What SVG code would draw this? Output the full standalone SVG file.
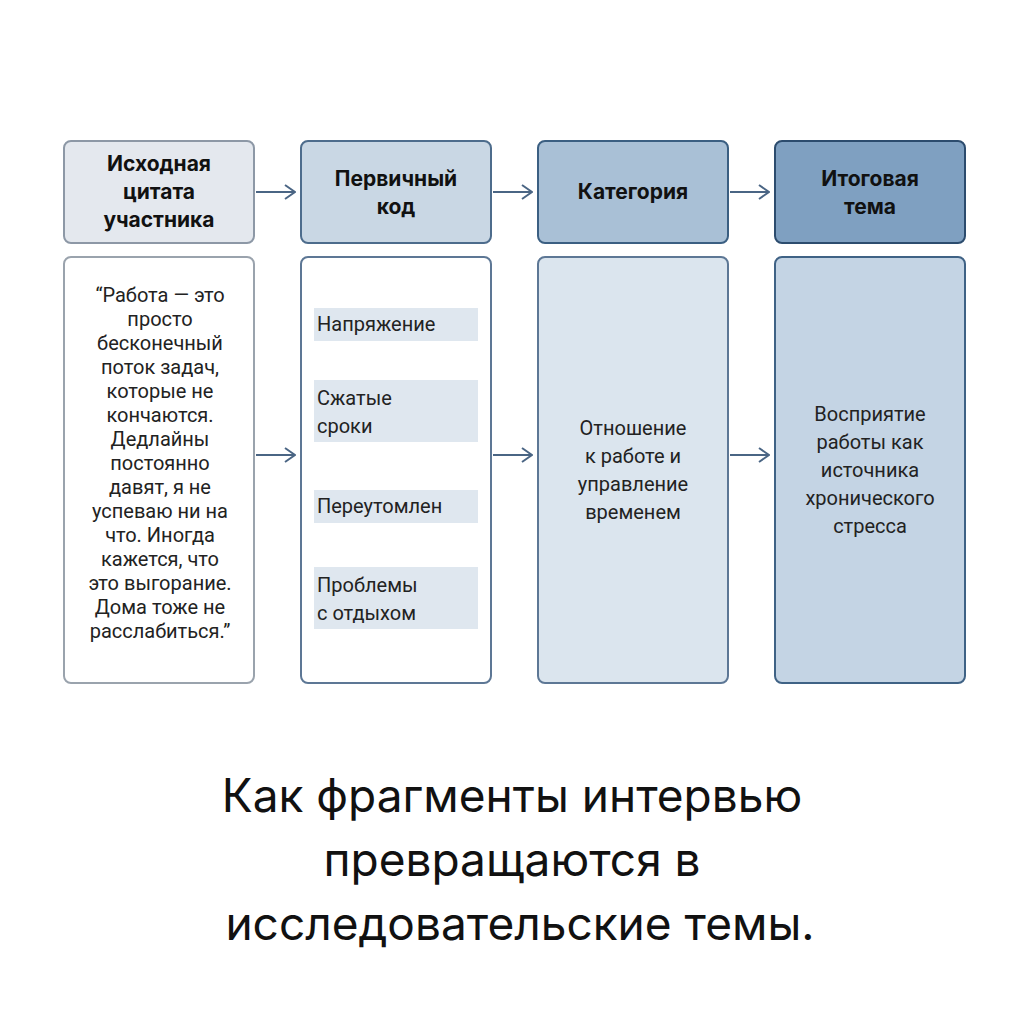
<svg xmlns="http://www.w3.org/2000/svg" width="1024" height="1024" viewBox="0 0 1024 1024">
<style>
.h{font-family:"Inter","Liberation Sans",sans-serif;font-weight:700;font-size:21px;fill:#111;text-anchor:middle}
.b{font-family:"Roboto","Liberation Sans",sans-serif;font-size:20px;fill:#222;text-anchor:middle}
.c{font-family:"Roboto","Liberation Sans",sans-serif;font-size:20px;fill:#222}
.t{font-family:"Inter","Liberation Sans",sans-serif;font-size:46px;fill:#111;text-anchor:middle}
.a{stroke:#4a6584;stroke-width:2;fill:none}
.band{fill:#dfe7ef}
</style>
<defs><marker id="m" viewBox="0 0 12 16" refX="11" refY="8" markerWidth="12" markerHeight="16" markerUnits="userSpaceOnUse" orient="auto"><path d="M1,1 L11,8 L1,15" fill="none" stroke="#4a6584" stroke-width="2"/></marker></defs>
<rect width="1024" height="1024" fill="#fff"/>
<g id="h1"><rect x="64" y="141" width="190" height="102" rx="7" fill="#e4e8ee" stroke="#8d98a6" stroke-width="2"/><text class="h"><tspan x="159" y="171">Исходная</tspan><tspan x="159" y="199">цитата</tspan><tspan x="159" y="227">участника</tspan></text></g>
<g id="h2"><rect x="301" y="141" width="190" height="102" rx="7" fill="#c9d7e4" stroke="#4d6c8c" stroke-width="2"/><text class="h"><tspan x="396" y="186">Первичный</tspan><tspan x="396" y="214">код</tspan></text></g>
<g id="h3"><rect x="538" y="141" width="190" height="102" rx="7" fill="#a9c0d6" stroke="#3b5f82" stroke-width="2"/><text class="h" x="633" y="199">Категория</text></g>
<g id="h4"><rect x="775" y="141" width="190" height="102" rx="7" fill="#7fa0c1" stroke="#2c4c6e" stroke-width="2"/><text class="h"><tspan x="870" y="186">Итоговая</tspan><tspan x="870" y="214">тема</tspan></text></g>
<g id="b1"><rect x="64" y="257" width="190" height="426" rx="7" fill="#fff" stroke="#9aa3ad" stroke-width="2"/><text class="b"><tspan x="160" y="302">“Работа — это</tspan><tspan x="160" y="326">просто</tspan><tspan x="160" y="350">бесконечный</tspan><tspan x="160" y="374">поток задач,</tspan><tspan x="160" y="398">которые не</tspan><tspan x="160" y="422">кончаются.</tspan><tspan x="160" y="446">Дедлайны</tspan><tspan x="160" y="470">постоянно</tspan><tspan x="160" y="494">давят, я не</tspan><tspan x="160" y="518">успеваю ни на</tspan><tspan x="160" y="542">что. Иногда</tspan><tspan x="160" y="566">кажется, что</tspan><tspan x="160" y="590">это выгорание.</tspan><tspan x="160" y="614">Дома тоже не</tspan><tspan x="160" y="638">расслабиться.”</tspan></text></g>
<g id="b2"><rect x="301" y="257" width="190" height="426" rx="7" fill="#fff" stroke="#5d7795" stroke-width="2"/>
<rect class="band" x="314" y="308" width="164" height="33"/><text class="c" x="317" y="331">Напряжение</text>
<rect class="band" x="314" y="380" width="164" height="62"/><text class="c"><tspan x="317" y="405">Сжатые</tspan><tspan x="317" y="433">сроки</tspan></text>
<rect class="band" x="314" y="490" width="164" height="33"/><text class="c" x="317" y="513">Переутомлен</text>
<rect class="band" x="314" y="567" width="164" height="62"/><text class="c"><tspan x="317" y="592">Проблемы</tspan><tspan x="317" y="620">с отдыхом</tspan></text></g>
<g id="b3"><rect x="538" y="257" width="190" height="426" rx="7" fill="#dbe5ee" stroke="#5d7795" stroke-width="2"/><text class="b"><tspan x="633" y="435">Отношение</tspan><tspan x="633" y="463">к работе и</tspan><tspan x="633" y="491">управление</tspan><tspan x="633" y="519">временем</tspan></text></g>
<g id="b4"><rect x="775" y="257" width="190" height="426" rx="7" fill="#c4d4e4" stroke="#3f6285" stroke-width="2"/><text class="b"><tspan x="870" y="421">Восприятие</tspan><tspan x="870" y="449">работы как</tspan><tspan x="870" y="477">источника</tspan><tspan x="870" y="505">хронического</tspan><tspan x="870" y="533">стресса</tspan></text></g>
<g id="connectors">
<line class="a" x1="256" y1="192" x2="295" y2="192" marker-end="url(#m)" stroke="#8d98a6"/>
<line class="a" x1="493" y1="192" x2="532" y2="192" marker-end="url(#m)"/>
<line class="a" x1="730" y1="192" x2="769" y2="192" marker-end="url(#m)"/>
<line class="a" x1="256" y1="455" x2="295" y2="455" marker-end="url(#m)" stroke="#8d98a6"/>
<line class="a" x1="493" y1="455" x2="532" y2="455" marker-end="url(#m)"/>
<line class="a" x1="730" y1="455" x2="769" y2="455" marker-end="url(#m)"/>
</g>
<text class="t"><tspan x="512" y="812">Как фрагменты интервью</tspan><tspan x="512" y="876">превращаются в</tspan><tspan x="520" y="940">исследовательские темы.</tspan></text>
</svg>
